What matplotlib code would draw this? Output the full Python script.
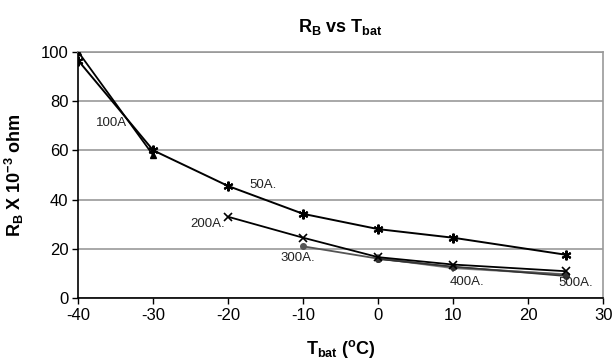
import numpy as np
import matplotlib
matplotlib.use("Agg")
import matplotlib.pyplot as plt

plt.rcParams['font.family'] = ['Liberation Sans', 'DejaVu Sans']
plt.rcParams['mathtext.fontset'] = 'custom'
plt.rcParams['mathtext.rm'] = 'Liberation Sans'
plt.rcParams['mathtext.bf'] = 'Liberation Sans:bold'
plt.rcParams['mathtext.it'] = 'Liberation Sans:italic'
plt.rcParams['axes.unicode_minus'] = False

# Data (temperature in C, resistance in milliohm)
t_50 = [-40, -30, -20, -10, 0, 10, 25]
r_50 = [96.5, 60, 45.5, 34.2, 28, 24.5, 17.6]

t_100 = [-40, -30]
r_100 = [100, 58]

t_200 = [-20, -10, 0, 10, 25]
r_200 = [33, 24.5, 16.6, 13.6, 10.9]

t_300 = [-10, 0, 10, 25]
r_300 = [21, 16, 12.5, 9.5]

t_400 = [0, 10, 25]
r_400 = [16.2, 12.2, 9.6]

t_500 = [0, 10, 25]
r_500 = [15.8, 12.8, 8.9]

labels = ["50A.", "100A", "200A.", "300A.", "400A.", "500A."]
label_pos = [(-17.2, 45.8), (-37.7, 71), (-25.0, 30), (-13.0, 16.1), (9.6, 6.5), (24.0, 6.3)]

fig = plt.figure(figsize=(6.16, 3.63), dpi=100)
ax = fig.add_axes([0.127, 0.179, 0.852, 0.678])

asterisk = (6, 2, 0)
ax.plot(t_400, r_400, color='#888888', lw=1.6, marker='+', ms=6, mew=1.5, zorder=3)
ax.plot(t_300, r_300, color='#555555', lw=1.3, marker='o', ms=4, zorder=3)
ax.plot(t_500, r_500, color='#333333', lw=1.1, marker='o', ms=4, zorder=3)
ax.plot(t_200, r_200, color='black', lw=1.3, marker='x', ms=6, mew=1.2, zorder=4)
ax.plot(t_100, r_100, color='black', lw=1.3, marker='^', ms=5, zorder=4)
ax.plot(t_50, r_50, color='black', lw=1.4, marker=asterisk, ms=7, mew=1.5, zorder=5)

for lab, (lx, ly) in zip(labels, label_pos):
    ax.text(lx, ly, lab, fontsize=9.5, color='#222222', ha='left', va='center')

ax.set_xlim(-40, 30)
ax.set_ylim(0, 100)
ax.set_xticks(np.arange(-40, 31, 10))
ax.set_yticks(np.arange(0, 101, 20))
ax.yaxis.grid(True, color='#999999', lw=1.2)
ax.set_axisbelow(True)
ax.tick_params(labelsize=12, direction='out', length=4, width=1, pad=3)

ax.spines['top'].set_color('#999999')
ax.spines['right'].set_color('#999999')
ax.spines['top'].set_linewidth(1.2)
ax.spines['right'].set_linewidth(1.2)
ax.spines['left'].set_linewidth(1.2)
ax.spines['bottom'].set_linewidth(1.2)

ax.text(0.5, 1.10, r'$\mathbf{R_B\ vs\ T_{bat}}$', fontsize=13,
        ha='center', va='center', transform=ax.transAxes)
ax.set_ylabel(r'$\mathbf{R_B\ X\ 10^{-3}\ ohm}$', fontsize=13, va='center')
ax.yaxis.set_label_coords(-0.121, 0.5)
ax.set_xlabel(r'$\mathbf{T_{bat}\ (^oC)}$', fontsize=13, va='center')
ax.xaxis.set_label_coords(0.5, -0.207)

fig.savefig("out.png", dpi=100)
